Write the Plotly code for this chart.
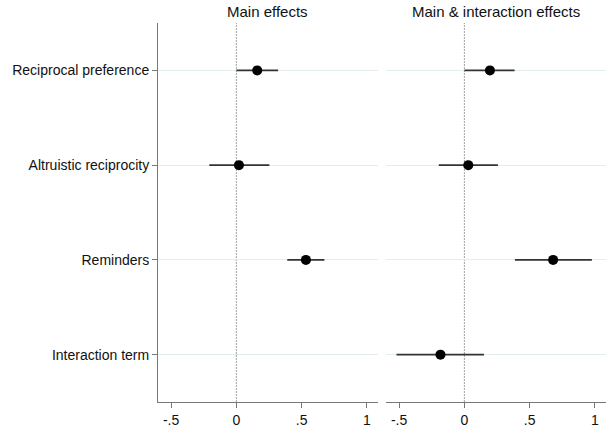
import plotly.graph_objects as go
from plotly.subplots import make_subplots

categories = ["Reciprocal preference", "Altruistic reciprocity", "Reminders", "Interaction term"]
panel_titles = ["Main effects", "Main & interaction effects"]

main_est = [0.16, 0.02, 0.533]
main_lo = [0.0, -0.207, 0.39]
main_hi = [0.32, 0.253, 0.675]

inter_est = [0.196, 0.03, 0.68, -0.183]
inter_lo = [0.0, -0.196, 0.387, -0.52]
inter_hi = [0.385, 0.257, 0.977, 0.15]

xtick_vals = [-0.5, 0, 0.5, 1]
xtick_text = ["-.5", "0", ".5", "1"]

FONT = "Liberation Sans, Arial"

fig = make_subplots(rows=1, cols=2, shared_yaxes=True, horizontal_spacing=0.018,
                    subplot_titles=panel_titles)

ypos = {c: i + 1 for i, c in enumerate(categories)}

def add_panel(est, lo, hi, col):
    cats = categories[:len(est)]
    fig.add_trace(go.Scatter(
        x=est, y=[ypos[c] for c in cats], mode="markers",
        marker=dict(color="black", size=10),
        error_x=dict(type="data", symmetric=False,
                     array=[h - e for h, e in zip(hi, est)],
                     arrayminus=[e - l for e, l in zip(est, lo)],
                     color="#333333", thickness=1.6, width=0),
        showlegend=False, hoverinfo="skip"), row=1, col=col)

add_panel(main_est, main_lo, main_hi, 1)
add_panel(inter_est, inter_lo, inter_hi, 2)

for xr in ["x", "x2"]:
    fig.add_shape(type="line", xref=xr, yref="paper", x0=0, x1=0, y0=0, y1=1,
                  line=dict(color="#a0a0a0", width=1, dash="2px,1px"), layer="below")

axis_common = dict(range=[-0.6, 1.085], tickvals=xtick_vals, ticktext=xtick_text,
                   showgrid=False, zeroline=False, showline=True, linecolor="#777777",
                   linewidth=1, ticks="outside", ticklen=5, tickcolor="#777777",
                   tickfont=dict(family=FONT, size=14, color="#111111"))
fig.update_xaxes(**axis_common)

fig.update_yaxes(range=[4.5, 0.5], tickvals=[1, 2, 3, 4], ticktext=categories,
                 showgrid=True, gridcolor="#e4eeee", gridwidth=1, zeroline=False,
                 tickfont=dict(family=FONT, size=14, color="#111111"))
fig.update_yaxes(showline=True, linecolor="#777777", linewidth=1, ticks="outside",
                 ticklen=5, tickcolor="#777777", row=1, col=1)
fig.update_yaxes(showline=False, ticks="", showticklabels=False, row=1, col=2)

for ann in fig.layout.annotations:
    ann.font = dict(family=FONT, size=15, color="#111111")
    ann.yshift = 1

fig.update_layout(width=608, height=430, margin=dict(l=158, r=2, t=23, b=28),
                  plot_bgcolor="white", paper_bgcolor="white",
                  font=dict(family=FONT))

# remove the browser's default 8px page margin so the figure fills the window
fig.write_html("out.html", config={"displayModeBar": False},
               post_script="document.body.style.margin='0';")
